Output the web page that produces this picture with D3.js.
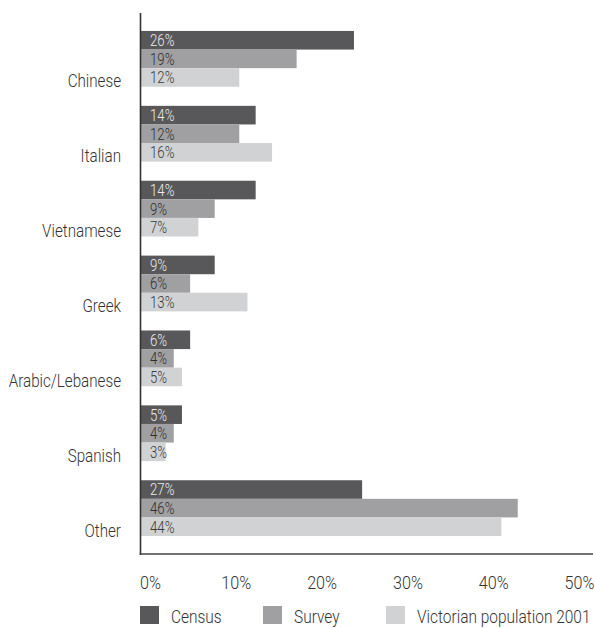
<!DOCTYPE html>
<html>
<head>
<meta charset="utf-8">
<script src="https://cdn.jsdelivr.net/npm/d3@7"></script>
<style>
  html, body { margin: 0; padding: 0; background: #fff; }
  svg { display: block; }
  text { font-family: Roboto, "Liberation Sans", sans-serif; font-weight: 300; }
</style>
</head>
<body>
<svg id="chart" width="595" height="628"></svg>
<script>
// Language groups, top to bottom
const categories = ["Chinese", "Italian", "Vietnamese", "Greek", "Arabic/Lebanese", "Spanish", "Other"];
const series = ["Census", "Survey", "Victorian population 2001"];

// Share of each language group (%)
const census   = [26, 14, 14, 9, 6, 5, 27];
const survey   = [19, 12, 9, 6, 4, 4, 46];
const victoria = [12, 16, 7, 13, 5, 3, 44];

const tickValues = [0, 10, 20, 30, 40, 50];

const colors = ["#58585a", "#a0a0a2", "#d1d2d4"];
const labelColors = ["#ececec", "#2e2e2e", "#3a3a3a"];

const values = [census, survey, victoria];
const rows = categories.map((c, i) => ({
  category: c,
  values: series.map((s, j) => ({ series: s, index: j, value: values[j][i] }))
}));

// Horizontally narrow text around its own x anchor (condensed look)
function squeeze(sel, sx) {
  sel.attr("transform", function () {
    const ax = +this.getAttribute("x") || 0;
    return `translate(${ax},0) scale(${sx},1) translate(${-ax},0)`;
  });
}

const svg = d3.select("#chart");

const plotLeft = 141, plotTop = 13, plotBottom = 554, plotRight = 593;

// Bar length scale
const x = d3.scaleLinear().domain([0, 50]).range([plotLeft, plotLeft + 409.5]);
// Label placement for the percentage axis
const xAxisScale = d3.scaleLinear().domain([0, 50]).range([150, 579]);

const y = d3.scaleBand().domain(categories).range([plotTop, plotBottom])
  .paddingInner(0.255).paddingOuter(0.24);
const ySeries = d3.scaleBand().domain(series).range([0, y.bandwidth()]);

const groups = svg.append("g").selectAll("g")
  .data(rows).join("g")
  .attr("transform", d => `translate(0,${y(d.category)})`);

groups.selectAll("rect")
  .data(d => d.values).join("rect")
  .attr("x", x(0))
  .attr("y", d => ySeries(d.series))
  .attr("width", d => x(d.value) - x(0))
  .attr("height", ySeries.bandwidth())
  .attr("fill", d => colors[d.index]);

groups.selectAll("text.val")
  .data(d => d.values).join("text")
  .attr("class", "val")
  .attr("x", x(0) + 9)
  .attr("y", d => ySeries(d.series) + ySeries.bandwidth() / 2)
  .attr("dy", "0.36em")
  .attr("font-size", 16.5)
  .attr("fill", d => labelColors[d.index])
  .text(d => d.value + "%")
  .call(squeeze, 0.8);

// Category labels, sitting on the bottom edge of each group
svg.append("g").selectAll("text")
  .data(categories).join("text")
  .attr("x", 121)
  .attr("y", d => y(d) + y.bandwidth() + 0.5)
  .attr("text-anchor", "end")
  .attr("font-size", 19)
  .attr("fill", "#333")
  .text(d => d)
  .call(squeeze, 0.8);

// Axis frame
svg.append("line")
  .attr("x1", plotLeft - 0.5).attr("x2", plotLeft - 0.5)
  .attr("y1", plotTop).attr("y2", plotBottom + 1)
  .attr("stroke", "#333").attr("stroke-width", 1.6);
svg.append("line")
  .attr("x1", plotLeft - 1.3).attr("x2", plotRight)
  .attr("y1", plotBottom).attr("y2", plotBottom)
  .attr("stroke", "#444").attr("stroke-width", 1.6);

// Percentage axis
const axis = svg.append("g")
  .attr("transform", `translate(0,${plotBottom + 19})`)
  .call(d3.axisBottom(xAxisScale).tickValues(tickValues).tickSize(0).tickFormat(d => d + "%"));
axis.select(".domain").remove();
axis.selectAll("text")
  .attr("font-size", 18)
  .attr("fill", "#333")
  .attr("font-family", null)
  .call(squeeze, 0.9);

// Legend
const legend = svg.append("g").selectAll("g")
  .data(series).join("g")
  .attr("transform", (d, i) => `translate(${140 + i * 123},606)`);
legend.append("rect")
  .attr("width", 19).attr("height", 18)
  .attr("fill", (d, i) => colors[i]);
legend.append("text")
  .attr("x", 31).attr("y", 17)
  .attr("font-size", 18)
  .attr("fill", "#333")
  .text(d => d)
  .call(squeeze, 0.86);
</script>
</body>
</html>
